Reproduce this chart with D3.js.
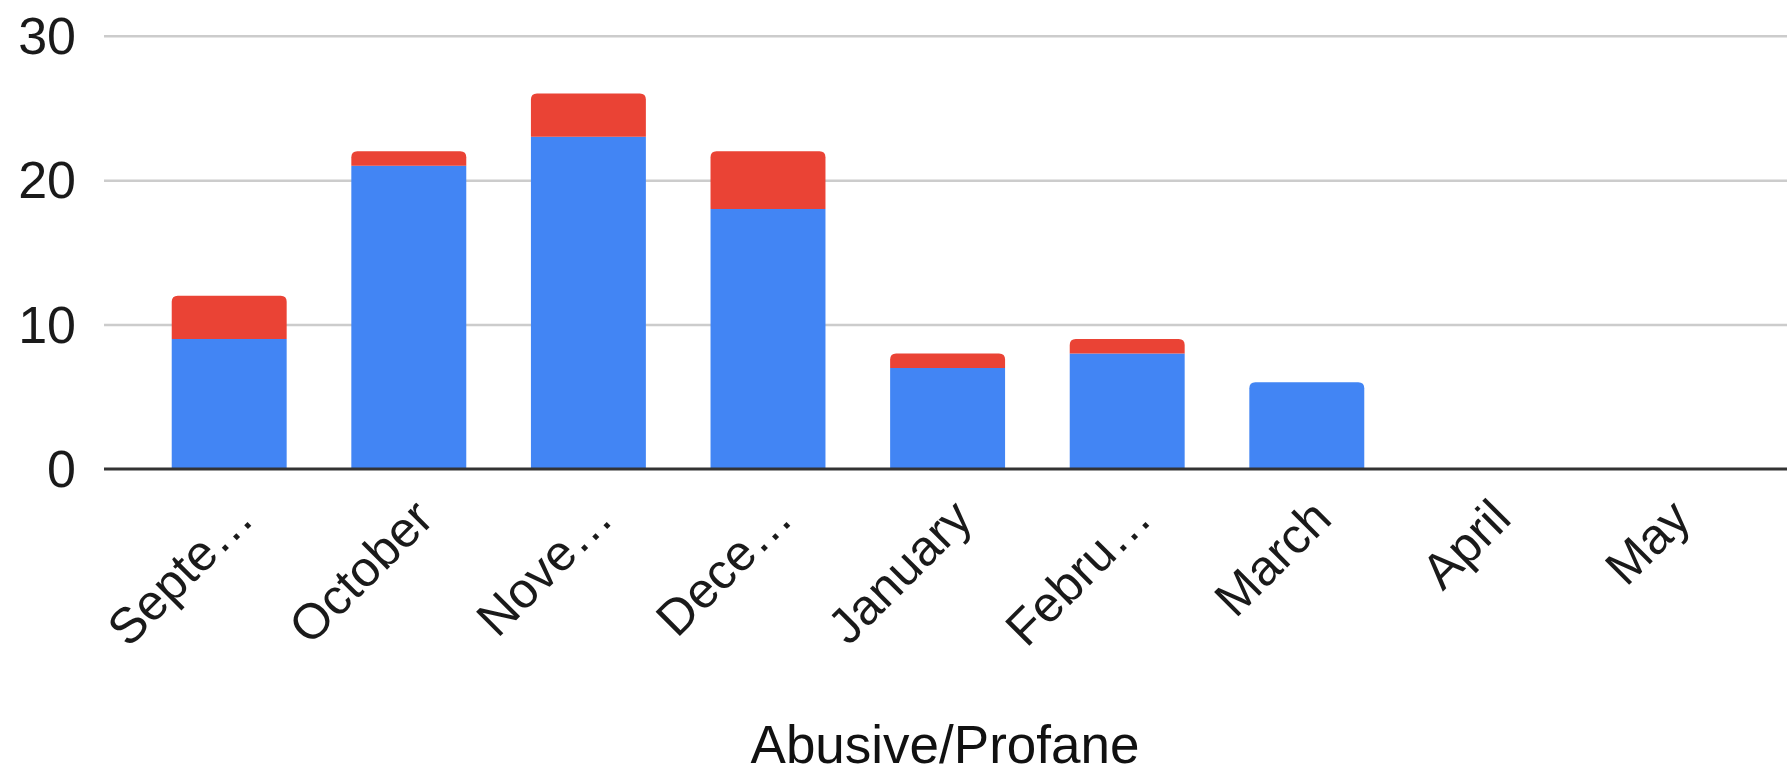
<!DOCTYPE html>
<html>
<head>
<meta charset="utf-8">
<script src="https://cdn.jsdelivr.net/npm/d3@7"></script>
<style>
  html, body { margin: 0; padding: 0; background: #ffffff; }
  svg { display: block; }
  text { font-family: "Liberation Sans", Arial, Helvetica, sans-serif; }
</style>
</head>
<body>
<svg id="chart" width="1787" height="775"></svg>
<script>
// Monthly counts, stacked: lower (blue) and upper (red) segments
const months = ["September", "October", "November", "December", "January", "February", "March", "April", "May"];
const tickLabels = ["Septe…", "October", "Nove…", "Dece…", "January", "Febru…", "March", "April", "May"];
const lowerValues = [9, 21, 23, 18, 7, 8, 6, 0, 0];
const upperValues = [3, 1, 3, 4, 1, 1, 0, 0, 0];
const yTicks = [0, 10, 20, 30];
const seriesKeys = ["lower", "upper"];
const seriesColors = ["#4285F4", "#EA4335"];
const axisTitle = "Abusive/Profane";

const rows = months.map((m, i) => ({ month: m, lower: lowerValues[i], upper: upperValues[i] }));

const svg = d3.select("#chart");
const plotLeft = 104, plotRight = 1787;
const y0 = 469, yTop = 35.7;

const x = d3.scaleBand()
  .domain(months)
  .range([139.4, 1755.8])
  .paddingInner(0.36)
  .paddingOuter(0.18);

const y = d3.scaleLinear().domain([0, 30]).range([y0, yTop]);

// Gridlines and y tick labels
const yAxis = d3.axisLeft(y)
  .tickValues(yTicks)
  .tickSize(-(plotRight - plotLeft))
  .tickPadding(28)
  .tickFormat(d3.format("d"));

const gy = svg.append("g")
  .attr("transform", `translate(${plotLeft},0)`)
  .call(yAxis);
gy.select(".domain").remove();
gy.selectAll(".tick line")
  .attr("stroke", "#cccccc")
  .attr("stroke-width", 2.5)
  .attr("stroke-opacity", d => d === 0 ? 0 : 1);
gy.selectAll(".tick text")
  .attr("fill", "#1a1a1a")
  .attr("font-size", 52)
  .attr("dy", "0.34em");

// Stacked bars
const stack = d3.stack().keys(seriesKeys);
const layers = stack(rows);

// The topmost non-empty segment of each month gets rounded top corners
const topKey = rows.map(r => r.upper > 0 ? "upper" : (r.lower > 0 ? "lower" : null));

function segPath(x0, w, yb, yt, r) {
  r = Math.min(r, (yb - yt), w / 2);
  if (r <= 0) return `M${x0},${yb}V${yt}H${x0 + w}V${yb}Z`;
  return `M${x0},${yb}V${yt + r}Q${x0},${yt} ${x0 + r},${yt}H${x0 + w - r}Q${x0 + w},${yt} ${x0 + w},${yt + r}V${yb}Z`;
}

const gBars = svg.append("g");
layers.forEach((layer, li) => {
  gBars.append("g")
    .attr("fill", seriesColors[li])
    .selectAll("path")
    .data(layer.filter(d => d[1] - d[0] > 0))
    .join("path")
    .attr("d", d => {
      const key = seriesKeys[li];
      const i = months.indexOf(d.data.month);
      const rad = topKey[i] === key ? 6 : 0;
      return segPath(x(d.data.month), x.bandwidth(), y(d[0]), y(d[1]), rad);
    });
});

// Baseline
svg.append("line")
  .attr("x1", plotLeft).attr("x2", plotRight)
  .attr("y1", y(0)).attr("y2", y(0))
  .attr("stroke", "#333333")
  .attr("stroke-width", 3);

// Rotated category labels
const gx = svg.append("g");
gx.selectAll("text")
  .data(months)
  .join("text")
  .attr("transform", d => `translate(${x(d) + x.bandwidth() / 2 + 27},521) rotate(-45)`)
  .attr("text-anchor", "end")
  .attr("font-size", 50)
  .attr("fill", "#1a1a1a")
  .text((d, i) => tickLabels[i]);

// Axis title
svg.append("text")
  .attr("x", 945)
  .attr("y", 763)
  .attr("text-anchor", "middle")
  .attr("font-size", 53)
  .attr("fill", "#111111")
  .text(axisTitle);
</script>
</body>
</html>
